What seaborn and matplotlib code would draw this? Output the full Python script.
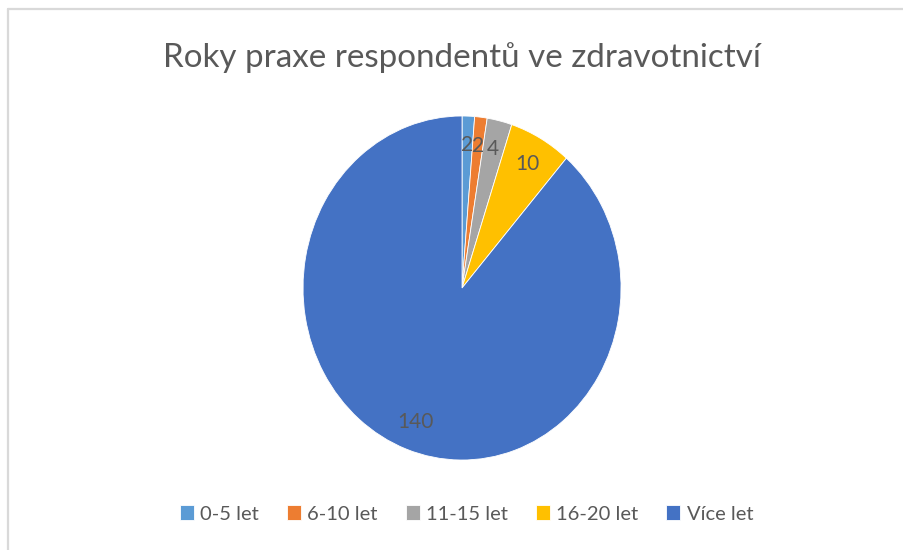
import matplotlib
matplotlib.use("Agg")
import matplotlib.pyplot as plt
import seaborn as sns
from matplotlib.lines import Line2D

# data
categories = ["0-5 let", "6-10 let", "11-15 let", "16-20 let", "Více let"]
counts = [2, 2, 4, 10, 140]
hex_colors = ["#5B9BD5", "#ED7D31", "#A5A5A5", "#FFC000", "#4472C4"]
title = "Roky praxe respondentů ve zdravotnictví"

sns.set_theme(style="white")
plt.rcParams["font.family"] = ["Lato", "DejaVu Sans"]
palette = sns.color_palette(hex_colors)
text_color = "#595959"
total = sum(counts)

fig = plt.figure(figsize=(9.04, 5.5), dpi=100)
ax = fig.add_axes([0.3352, 0.1636, 0.3518, 0.6255])

wedges, _, autotexts = ax.pie(
    counts, colors=palette, startangle=90, counterclock=False,
    autopct=lambda p: f"{round(p * total / 100):.0f}", pctdistance=0.83,
    wedgeprops=dict(linewidth=0.6, edgecolor="white"),
    textprops=dict(color=text_color, fontsize=15),
)
ax.set_aspect("auto")
ax.set_xlim(-1, 1)
ax.set_ylim(-1, 1)

fig.text(0.511, 1 - 58 / 550, title, ha="center", va="center",
         fontsize=23.9, color=text_color)

fig.legend(wedges, categories, loc="center", ncol=5, frameon=False,
           bbox_to_anchor=(0.516, 1 - 514 / 550), bbox_transform=fig.transFigure,
           handlelength=0.7, handleheight=0.7, handletextpad=0.3,
           columnspacing=1.4, fontsize=14.5, labelcolor=text_color)

# chart area border (partially visible)
border = "#d9d9d9"
fig.add_artist(Line2D([0.0083, 0.0083], [0, 0.983], color=border, lw=1.6,
                      transform=fig.transFigure))
fig.add_artist(Line2D([0.0083, 1], [0.983, 0.983], color=border, lw=1.6,
                      transform=fig.transFigure))

fig.savefig("out.png", dpi=100, facecolor="white")
